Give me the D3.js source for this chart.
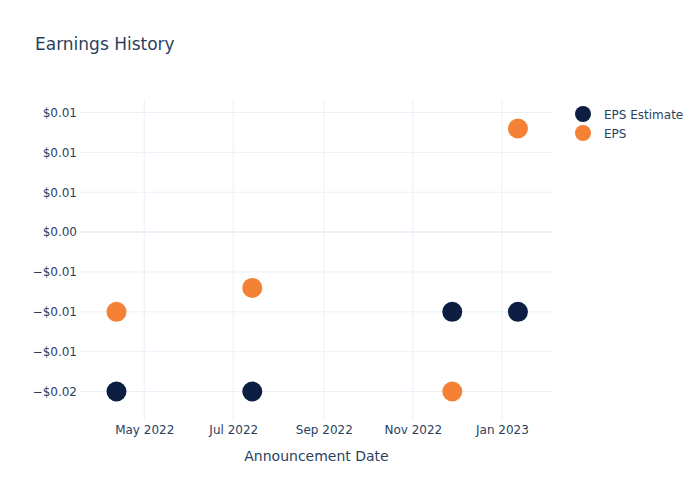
<!DOCTYPE html>
<html>
<head>
<meta charset="utf-8">
<script src="https://cdn.jsdelivr.net/npm/d3@7"></script>
<style>
  body { margin: 0; background: #fff; }
  svg { font-family: "DejaVu Sans", Verdana, sans-serif; }
</style>
</head>
<body>
<svg id="chart" width="700" height="500"></svg>
<script>
const dates = ["2022-04-12", "2022-07-14", "2022-11-28", "2023-01-12"];
const epsEstimate = [-0.02, -0.02, -0.01, -0.01];
const eps = [-0.01, -0.007, -0.02, 0.013];
const seriesNames = ["EPS Estimate", "EPS"];
const seriesColors = ["#0c1f42", "#f58137"];
const yTickValues = [0.015, 0.01, 0.005, 0, -0.005, -0.01, -0.015, -0.02];
const yTickLabels = ["$0.01", "$0.01", "$0.01", "$0.00", "\u2212$0.01", "\u2212$0.01", "\u2212$0.01", "\u2212$0.02"];
const xTickDates = ["2022-05-01", "2022-07-01", "2022-09-01", "2022-11-01", "2023-01-01"];
const xTickLabels = ["May 2022", "Jul 2022", "Sep 2022", "Nov 2022", "Jan 2023"];

const parse = d3.utcParse("%Y-%m-%d");
const svg = d3.select("#chart");
const m = { l: 80, r: 147, t: 100, b: 80 };
const W = 700, H = 500;
const textColor = "#2a3f5f", gridColor = "#ebf0f8";

const x = d3.scaleUtc()
  .domain([parse("2022-03-18"), parse("2023-02-05")])
  .range([m.l, W - m.r]);
const y = d3.scaleLinear()
  .domain([-0.02357, 0.01657])
  .range([H - m.b, m.t]);

// grid
const g = svg.append("g");
g.selectAll(".vg").data(xTickDates).join("line")
  .attr("x1", d => x(parse(d))).attr("x2", d => x(parse(d)))
  .attr("y1", m.t).attr("y2", H - m.b)
  .attr("stroke", gridColor).attr("stroke-width", 1);
g.selectAll(".hg").data(yTickValues).join("line")
  .attr("x1", m.l).attr("x2", W - m.r)
  .attr("y1", d => y(d)).attr("y2", d => y(d))
  .attr("stroke", gridColor).attr("stroke-width", d => d === 0 ? 2 : 1);

// y axis
const yAxis = d3.axisLeft(y).tickValues(yTickValues)
  .tickFormat((d, i) => yTickLabels[i]).tickSize(0).tickPadding(3);
const ya = svg.append("g").attr("transform", `translate(${m.l},0)`).call(yAxis);
ya.select(".domain").remove();
ya.selectAll("text").attr("fill", textColor).style("font-size", "12px")
  .style("font-family", '"DejaVu Sans", sans-serif');

// x axis
const xAxis = d3.axisBottom(x).tickValues(xTickDates.map(parse))
  .tickFormat((d, i) => xTickLabels[i]).tickSize(0).tickPadding(5);
const xa = svg.append("g").attr("transform", `translate(0,${H - m.b})`).call(xAxis);
xa.select(".domain").remove();
xa.selectAll("text").attr("fill", textColor).style("font-size", "12px")
  .style("font-family", '"DejaVu Sans", sans-serif');

// points
const series = [epsEstimate, eps];
series.forEach((vals, si) => {
  svg.append("g").selectAll("circle").data(vals).join("circle")
    .attr("cx", (d, i) => x(parse(dates[i])))
    .attr("cy", d => y(d))
    .attr("r", 10)
    .attr("fill", seriesColors[si]);
});

// title
svg.append("text").attr("x", 35).attr("y", 50)
  .attr("fill", textColor).style("font-size", "17px")
  .text("Earnings History");

// x axis title
svg.append("text").attr("x", (m.l + W - m.r) / 2).attr("y", 461)
  .attr("text-anchor", "middle").attr("fill", textColor).style("font-size", "14px")
  .text("Announcement Date");

// legend
const lg = svg.append("g");
seriesNames.forEach((n, i) => {
  lg.append("circle").attr("cx", 583).attr("cy", 114 + i * 19).attr("r", 8)
    .attr("fill", seriesColors[i]);
  lg.append("text").attr("x", 604).attr("y", 114 + i * 19 + 4.5)
    .attr("fill", textColor).style("font-size", "12px").text(n);
});
</script>
</body>
</html>
